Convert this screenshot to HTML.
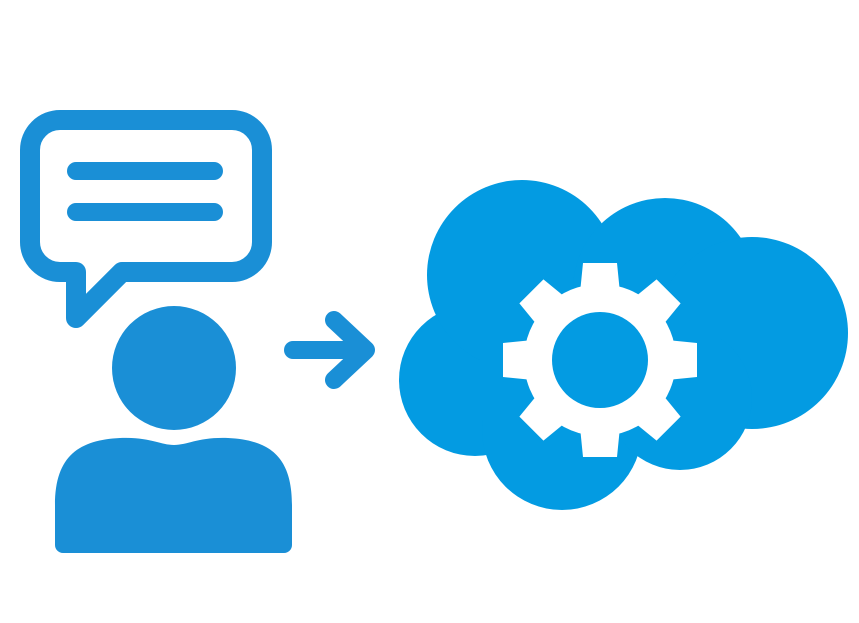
<!DOCTYPE html>
<html><head><style>html,body{margin:0;padding:0;background:#fff;width:859px;height:623px;overflow:hidden}</style></head>
<body>
<svg width="859" height="623" viewBox="0 0 859 623" xmlns="http://www.w3.org/2000/svg">
<path d="M60 120 H232 A30 30 0 0 1 262 150 V242 A30 30 0 0 1 232 272 H122 L76 318 V272 H60 A30 30 0 0 1 30 242 V150 A30 30 0 0 1 60 120 Z" fill="none" stroke="#1a8fd6" stroke-width="20" stroke-linejoin="round"/>
<line x1="76" y1="171" x2="214" y2="171" stroke="#1a8fd6" stroke-width="18" stroke-linecap="round"/>
<line x1="76" y1="212" x2="214" y2="212" stroke="#1a8fd6" stroke-width="18" stroke-linecap="round"/>
<circle cx="174" cy="368" r="62" fill="#1a8fd6"/>
<path d="M55 545 V505 C55 455 80 440 120 438 C150 437 160 445 174 445 C188 445 198 437 228 438 C268 440 292 455 292 505 V545 A8 8 0 0 1 284 553 H63 A8 8 0 0 1 55 545 Z" fill="#1a8fd6"/>
<line x1="293" y1="350" x2="362" y2="350" stroke="#1a8fd6" stroke-width="18" stroke-linecap="round"/>
<polyline points="334,320 366,350 334,380" fill="none" stroke="#1a8fd6" stroke-width="18" stroke-linecap="round" stroke-linejoin="round"/>
<g fill="#039be2">
<circle cx="475" cy="380" r="76"/>
<circle cx="522" cy="275" r="95"/>
<circle cx="665" cy="290" r="92"/>
<circle cx="752" cy="333" r="96"/>
<circle cx="562" cy="430" r="80"/>
<circle cx="680" cy="398" r="72"/>
<rect x="480" y="300" width="240" height="120"/>
</g>
<g transform="translate(600,360)" fill="#fff">
<circle r="76"/>
<g id="t"><path d="M-17 -97 H17 L21 -57 H-21 Z"/></g>
<use href="#t" transform="rotate(45)"/>
<use href="#t" transform="rotate(90)"/>
<use href="#t" transform="rotate(135)"/>
<use href="#t" transform="rotate(180)"/>
<use href="#t" transform="rotate(225)"/>
<use href="#t" transform="rotate(270)"/>
<use href="#t" transform="rotate(315)"/>
<circle r="48" fill="#039be2"/>
</g>
</svg>
</body></html>
